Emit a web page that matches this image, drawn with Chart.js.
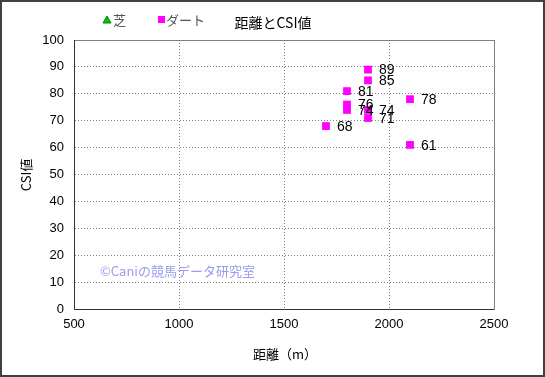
<!DOCTYPE html>
<html><head><meta charset="utf-8">
<script src="https://cdn.jsdelivr.net/npm/chart.js@4"></script>
<style>html,body{margin:0;padding:0;background:#fff}#wrap{width:545px;height:377px}</style>
</head><body><div id="wrap"><canvas id="c" width="545" height="377"></canvas></div>
<script>
const titleText = "距離とCSI値";
const xTitle = "距離（m）";
const yTitle = "CSI値";
const watermark = "©Caniの競馬データ研究室";
const seriesNames = ["芝", "ダート"];
const turfDistance = [];
const turfCSI = [];
const dirtDistance = [1900, 1900, 1800, 2100, 1800, 1800, 1900, 1900, 1700, 2100];
const dirtCSI = [89, 85, 81, 78, 76, 74, 74, 71, 68, 61];
const xTicks = [500, 1000, 1500, 2000, 2500];
const yTicks = [0, 10, 20, 30, 40, 50, 60, 70, 80, 90, 100];

const FONT = "'Liberation Sans','Noto Sans CJK JP',sans-serif";
const JFONT = "'Noto Sans CJK JP','Liberation Sans',sans-serif";

const toPts = (xs, ys) => xs.map((x, i) => ({x: x, y: ys[i]}));

const deco = {
  id: 'deco',
  afterDatasetsDraw(chart) {
    const ctx = chart.ctx, ca = chart.chartArea;
    ctx.save();
    ctx.setLineDash([]);
    ctx.strokeStyle = '#808080'; ctx.lineWidth = 1;
    ctx.strokeRect(Math.round(ca.left)+0.5, Math.round(ca.top)+0.5, Math.round(ca.right-ca.left), Math.round(ca.bottom-ca.top));
    ctx.strokeStyle = '#333';
    ctx.beginPath();
    ctx.moveTo(Math.round(ca.left)+0.5, ca.top); ctx.lineTo(Math.round(ca.left)+0.5, Math.round(ca.bottom)+0.5);
    ctx.lineTo(ca.right, Math.round(ca.bottom)+0.5); ctx.stroke();
    ctx.fillStyle = '#000'; ctx.font = '14px ' + FONT;
    ctx.textAlign = 'left'; ctx.textBaseline = 'middle';
    chart.data.datasets.forEach((ds, di) => {
      const meta = chart.getDatasetMeta(di);
      meta.data.forEach((el, i) => {
        ctx.fillText(String(ds.data[i].y), el.x + 11, el.y + 1);
      });
    });
    ctx.fillStyle = '#9b9bf0'; ctx.font = '13px ' + JFONT; ctx.textBaseline = 'middle';
    ctx.fillText(watermark, 100, 271);
    ctx.fillStyle = '#000'; ctx.font = '14px ' + JFONT; ctx.textAlign = 'center';
    ctx.fillText(titleText, 273, 23);
    ctx.font = '13px ' + JFONT; ctx.textAlign = 'left';
    ctx.fillStyle = '#00cc00'; ctx.strokeStyle = '#008000'; ctx.lineWidth = 1;
    ctx.beginPath(); ctx.moveTo(107, 16); ctx.lineTo(111, 23); ctx.lineTo(103, 23); ctx.closePath(); ctx.fill(); ctx.stroke();
    ctx.fillStyle = '#555'; ctx.fillText(seriesNames[0], 113, 20);
    ctx.fillStyle = '#ff00ff'; ctx.fillRect(158, 16, 7, 7);
    ctx.fillStyle = '#555'; ctx.fillText(seriesNames[1], 166, 20);
    ctx.fillStyle = '#000'; ctx.font = '13px ' + JFONT; ctx.textAlign = 'center';
    ctx.fillText(xTitle, 285, 354);
    ctx.translate(26, 175); ctx.rotate(-Math.PI/2);
    ctx.fillText(yTitle, 0, 0);
    ctx.restore();
    ctx.save();
    ctx.strokeStyle = '#404040'; ctx.lineWidth = 2;
    ctx.strokeRect(1, 1, 543, 375);
    ctx.restore();
  }
};

new Chart(document.getElementById('c'), {
  type: 'scatter',
  data: {
    datasets: [
      {label: seriesNames[0], data: toPts(turfDistance, turfCSI), pointStyle: 'triangle', backgroundColor: '#00cc00', borderColor: '#008000', pointRadius: 5},
      {label: seriesNames[1], data: toPts(dirtDistance, dirtCSI), pointStyle: 'rect', backgroundColor: '#ff00ff', borderColor: '#ff00ff', borderWidth: 0, pointRadius: 5.5}
    ]
  },
  options: {
    responsive: false, animation: false, devicePixelRatio: 1,
    layout: {padding: {left: 0, right: 51, top: 40, bottom: 0}},
    plugins: {legend: {display: false}, tooltip: {enabled: false}, title: {display: false}},
    scales: {
      x: {
        type: 'linear', min: 500, max: 2500,
        afterBuildTicks: s => { s.ticks = xTicks.map(v => ({value: v})); },
        afterFit: s => { s.height = 68; },
        ticks: {color: '#000', font: {size: 13, family: FONT}, padding: 8, callback: v => String(v)},
        grid: {color: '#808080', drawTicks: false},
        border: {display: true, color: '#333', dash: [1, 2]}
      },
      y: {
        min: 0, max: 100,
        afterBuildTicks: s => { s.ticks = yTicks.map(v => ({value: v})); },
        afterFit: s => { s.width = 74; },
        ticks: {color: '#000', font: {size: 13, family: FONT}, padding: 10, callback: v => String(v)},
        grid: {color: '#808080', drawTicks: false},
        border: {display: true, color: '#333', dash: [1, 2]}
      }
    }
  },
  plugins: [deco]
});
</script></body></html>
